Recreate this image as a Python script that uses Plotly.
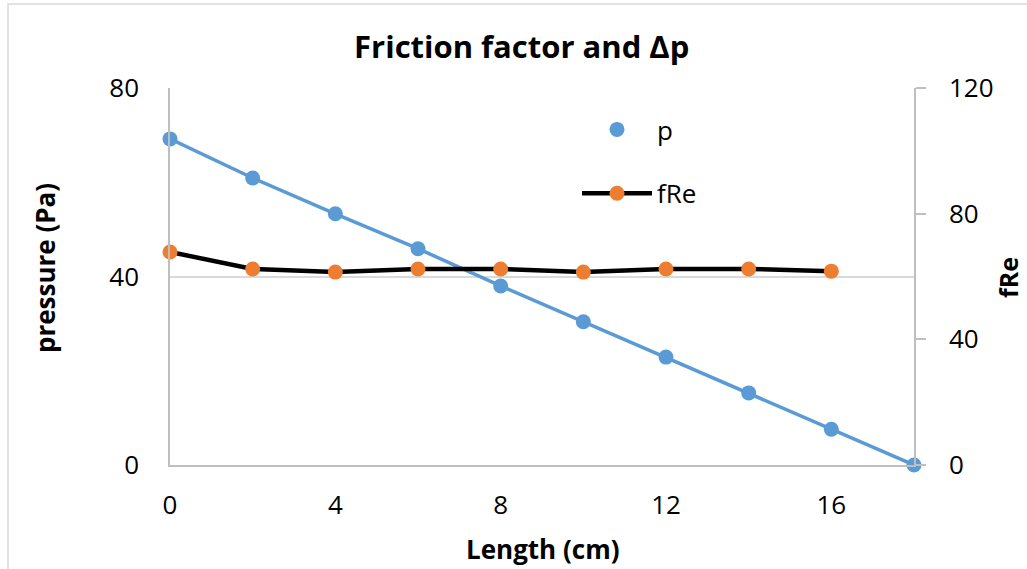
import plotly.graph_objects as go

# Data
length = [0, 2, 4, 6, 8, 10, 12, 14, 16, 18]
pressure = [69.2, 60.9, 53.3, 45.9, 38.0, 30.4, 22.9, 15.3, 7.6, 0.0]
length_fre = [0, 2, 4, 6, 8, 10, 12, 14, 16]
fre = [67.8, 62.4, 61.4, 62.4, 62.4, 61.4, 62.4, 62.4, 61.7]

x_ticks = [0, 4, 8, 12, 16]
y_left_ticks = [0, 40, 80]
y_right_ticks = [0, 40, 80, 120]

BLUE = "#5B9BD5"
ORANGE = "#ED7D31"
GRID = "#D9D9D9"
AXIS = "#BFBFBF"
FONT = "Open Sans, Noto Sans, sans-serif"

fig = go.Figure()

# pressure line (legend shows marker only)
fig.add_trace(go.Scatter(
    x=length, y=pressure, mode="lines", showlegend=False,
    line=dict(color=BLUE, width=3.5), cliponaxis=False,
))
fig.add_trace(go.Scatter(
    x=length, y=pressure, name="p", mode="markers",
    marker=dict(color=BLUE, size=15), legendgroup="a", legendrank=1,
    cliponaxis=False,
))
# fRe line + markers on right axis
fig.add_trace(go.Scatter(
    x=length_fre, y=fre, name="fRe", mode="lines+markers",
    line=dict(color="black", width=4.5),
    marker=dict(color=ORANGE, size=15),
    yaxis="y2", legendgroup="b", legendrank=2, cliponaxis=False,
))

L, R, T, B = 170, 113, 88, 104
W, H = 1027, 569
pw = W - L - R
ph = H - T - B

def px_x(px):
    return (px - L) / pw

def px_y(py):
    return (H - B - py) / ph

fig.update_layout(
    width=W, height=H,
    margin=dict(l=L, r=R, t=T, b=B),
    paper_bgcolor="white", plot_bgcolor="white",
    font=dict(family=FONT, size=26, color="black"),
    title=dict(text="<b>Friction factor and Δp</b>", x=0.508, xref="container",
               xanchor="center", y=1 - 47 / H, yref="container", yanchor="middle",
               font=dict(size=31, family=FONT, color="black")),
    xaxis=dict(range=[0, 18], tickvals=x_ticks, showgrid=False, zeroline=False,
               showline=True, linecolor=AXIS, linewidth=1.5, ticks="",
               ticklabelstandoff=16, tickfont=dict(size=26)),
    yaxis=dict(range=[0, 80], tickvals=y_left_ticks, showgrid=True, gridcolor=GRID,
               gridwidth=1.5, zeroline=False, showline=True, linecolor=AXIS,
               linewidth=1.5, ticks="", ticklabelstandoff=24, tickfont=dict(size=26)),
    yaxis2=dict(range=[0, 120], tickvals=y_right_ticks, overlaying="y", side="right",
                showgrid=False, zeroline=False, showline=True, linecolor=AXIS,
                linewidth=1.5, ticks="outside", ticklen=10, tickcolor=AXIS,
                tickwidth=1.5, ticklabelstandoff=18, tickfont=dict(size=26)),
    legend=dict(x=px_x(577), y=px_y(106), xanchor="left", yanchor="top",
                bgcolor="rgba(0,0,0,0)", itemwidth=70, tracegroupgap=27,
                traceorder="grouped", font=dict(size=26)),
    showlegend=True,
)

# axis titles
fig.add_annotation(text="<b>Length (cm)</b>", x=px_x(542), y=px_y(549), xref="paper",
                   yref="paper", showarrow=False, font=dict(size=26),
                   xanchor="center", yanchor="middle")
fig.add_annotation(text="<b>pressure (Pa)</b>", x=px_x(45), y=px_y(268), xref="paper",
                   yref="paper", showarrow=False, font=dict(size=26), textangle=-90,
                   xanchor="center", yanchor="middle")
fig.add_annotation(text="<b>fRe</b>", x=px_x(1008), y=px_y(278), xref="paper",
                   yref="paper", showarrow=False, font=dict(size=25), textangle=-90,
                   xanchor="center", yanchor="middle")

# chart area border
fig.add_shape(type="rect", xref="paper", yref="paper",
              x0=px_x(8), x1=px_x(1040), y0=px_y(600), y1=px_y(4),
              line=dict(color=GRID, width=1.5), layer="below")

fig.write_html("out.html")
